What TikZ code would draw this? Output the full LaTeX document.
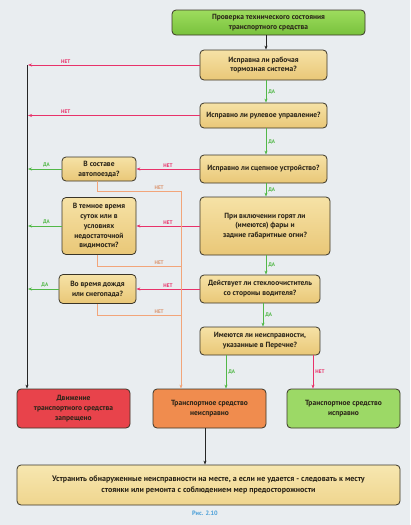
\documentclass[tikz,border=0pt]{standalone}
\usepackage{fontspec}
\setmainfont{PT Sans}
\usetikzlibrary{arrows.meta,calc}
\definecolor{bgc}{HTML}{E9EDF0}
\definecolor{edge}{HTML}{3A3528}
\definecolor{txt}{HTML}{2A2418}
\definecolor{qtop}{HTML}{F6E2A6}
\definecolor{qbot}{HTML}{E9C777}
\definecolor{ftop}{HTML}{F7E7B0}
\definecolor{fbot}{HTML}{EFD58E}
\definecolor{gtop}{HTML}{9EDC5E}
\definecolor{gbot}{HTML}{78C23C}
\definecolor{rfill}{HTML}{E8434B}
\definecolor{ofill}{HTML}{F08C4E}
\definecolor{grfill}{HTML}{9CD966}
\definecolor{lred}{HTML}{E8326A}
\definecolor{lgreen}{HTML}{52B848}
\definecolor{lorange}{HTML}{F2A57A}
\definecolor{capc}{HTML}{4A9FD8}
\begin{document}
\begin{tikzpicture}[x=1pt,y=-1pt,
  font=\bfseries\fontsize{7.5}{9.8}\selectfont,
  box/.style={draw=edge, line width=0.8pt, rounded corners=4pt, align=center, text=txt, inner sep=1pt},
  qbox/.style={box, top color=qtop, bottom color=qbot},
  tbox/.style={box, top color=gtop, bottom color=gbot},
  fbox/.style={box, top color=ftop, bottom color=fbot},
  conn/.style={line width=0.8pt},
  blk/.style={conn, draw=black!85, -{Stealth[length=4pt,width=3pt]}},
  ra/.style={conn, draw=lred, -{Stealth[length=4pt,width=3pt]}},
  ga/.style={conn, draw=lgreen, -{Stealth[length=4pt,width=3pt]}},
  ol/.style={conn, draw=lorange},
  oa/.style={conn, draw=lorange, -{Stealth[length=4pt,width=3pt]}},
  lab/.style={font=\bfseries\fontsize{5.2}{5.5}\selectfont, inner sep=1pt},
  yes/.style={lab, text=lgreen},
  no/.style={lab, text=lred},
  noo/.style={lab, text=lorange!90!black}
]
\useasboundingbox[fill=bgc] (0,0) rectangle (410,525);

% main column
\node[tbox, minimum width=193pt, minimum height=25pt] (top) at (268.5,22.5) {Проверка технического состояния\\транспортного средства};
\node[qbox, minimum width=127pt, minimum height=30pt] (b2) at (263.5,65) {Исправна ли рабочая\\тормозная система?};
\node[qbox, minimum width=127pt, minimum height=25pt] (b3) at (263.5,115.5) {Исправно ли рулевое управление?};
\node[qbox, minimum width=127pt, minimum height=28pt] (b4) at (263.5,169) {Исправно ли сцепное устройство?};
\node[qbox, minimum width=130pt, minimum height=58pt] (b5) at (265,226) {При включении горят ли\\(имеются) фары и\\задние габаритные огни?};
\node[qbox, minimum width=120pt, minimum height=28pt] (b6) at (260,289) {Действует ли стеклоочиститель\\со стороны водителя?};
\node[qbox, minimum width=120pt, minimum height=28pt] (b7) at (260,341) {Имеются ли неисправности,\\указанные в Перечне?};

% left column
\node[qbox, minimum width=74pt, minimum height=24pt] (l1) at (99,169) {В составе\\автопоезда?};
\node[qbox, minimum width=74pt, minimum height=57pt] (l2) at (99,226) {В темное время\\суток или в\\условиях\\недостаточной\\видимости?};
\node[qbox, minimum width=77pt, minimum height=29pt] (l3) at (97.5,289) {Во время дождя\\или снегопада?};

% results
\node[box, fill=rfill, minimum width=113pt, minimum height=39pt] (rr) at (73.5,408.5) {Движение\\транспортного средства\\запрещено};
\node[box, fill=ofill, minimum width=113pt, minimum height=39pt] (oo) at (209.5,408.5) {Транспортное средство\\неисправно};
\node[box, fill=grfill, minimum width=113pt, minimum height=39pt] (gg) at (343.5,408.5) {Транспортное средство\\исправно};
\node[fbox, minimum width=383pt, minimum height=40pt, font=\bfseries\fontsize{8}{10.5}\selectfont] (ff) at (208.5,485) {Устранить обнаруженные неисправности на месте, а если не удается - следовать к месту\\стоянки или ремонта с соблюдением мер предосторожности};

\node[text=capc, font=\bfseries\fontsize{6.3}{7}\selectfont] (cap) at (205,513) {Рис. 2.10};

% coordinates
\coordinate (sp) at (266,0);
\coordinate (sp2) at (263,0);
\coordinate (lt) at (27,65);
\coordinate (ll) at (28,0);
\coordinate (o1) at (181,191);
\coordinate (o2) at (181,266);
\coordinate (o3) at (181,315);

% spine
\draw[blk] (top.south -| sp) -- (b2.north -| sp);
\draw[ga] (b2.south -| sp) -- node[yes, right=1pt] {ДА} (b3.north -| sp);
\draw[ga] (b3.south -| sp) -- node[yes, right=1pt] {ДА} (b4.north -| sp);
\draw[ga] (b4.south -| sp) -- node[yes, right=1pt] {ДА} (b5.north -| sp);
\draw[ga] (b5.south -| sp) -- node[yes, right=1pt] {ДА} (b6.north -| sp);
\draw[ga] (b6.south -| sp2) -- node[yes, right=1pt] {ДА} (b7.north -| sp2);
\draw[ga] ($(b7.south)+(-34,0)$) -- node[yes, right=1pt] {ДА} ($(oo.north)+(16.5,0)$);
\draw[ra] ($(b7.south)+(53,0)$) -- node[no, right=1pt] {НЕТ} ($(gg.north)+(-30.5,0)$);

% left spine
\draw[blk] (lt) -- (rr.north -| lt);
\draw[ra] (b2.west) -- node[no, above=0.5pt, pos=0.78] {НЕТ} (b2.west -| ll);
\draw[ra] (b3.west) -- node[no, above=0.5pt, pos=0.78] {НЕТ} (b3.west -| ll);

% to left column
\draw[ra] (b4.west) -- node[no, above=0.5pt] {НЕТ} (l1.east);
\draw[ra] (b5.west) -- node[no, above=0.5pt] {НЕТ} (l2.east);
\draw[ra] (b6.west) -- node[no, above=0.5pt] {НЕТ} (l3.east);
\draw[ga] (l1.west) -- node[yes, above=0.5pt, pos=0.45] {ДА} (l1.west -| ll);
\draw[ga] (l2.west) -- node[yes, above=0.5pt, pos=0.45] {ДА} (l2.west -| ll);
\draw[ga] (l3.west) -- node[yes, above=0.5pt, pos=0.45] {ДА} (l3.west -| ll);

% orange
\draw[ol] ($(l1.south)+(-2,0)$) |- node[noo, above=0.5pt, pos=0.87] {НЕТ} (o1);
\draw[ol] ($(l2.south)+(-2,0)$) |- node[noo, above=0.5pt, pos=0.87] {НЕТ} (o2);
\draw[ol] ($(l3.south)+(-0.5,0)$) |- node[noo, above=0.5pt, pos=0.87] {НЕТ} (o3);
\draw[oa] (o1) -- (oo.north -| o1);

\draw[blk] ($(oo.south)+(-4.5,0)$) -- ($(ff.north)+(-3.5,0)$);
\end{tikzpicture}
\end{document}
